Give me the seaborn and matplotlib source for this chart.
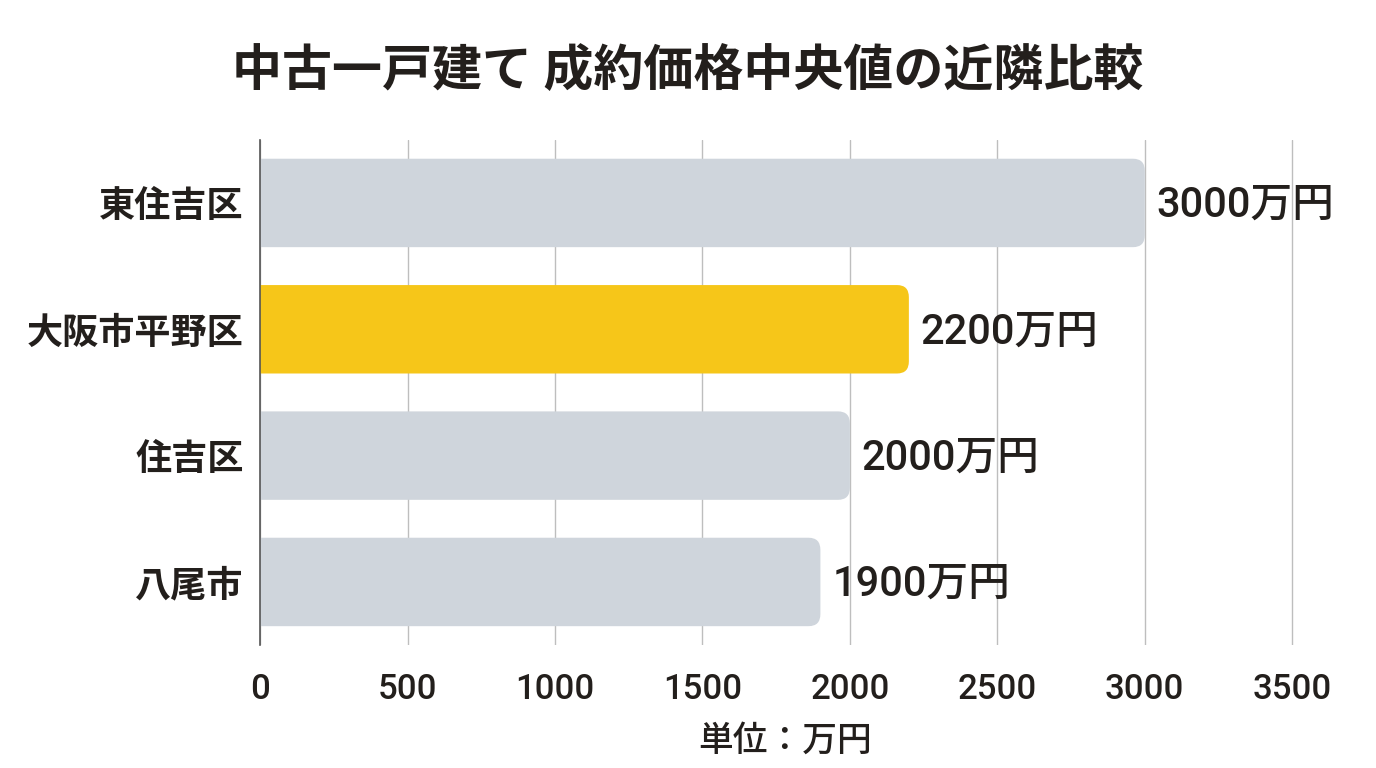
import matplotlib
matplotlib.use('Agg')
import matplotlib.pyplot as plt
from matplotlib.patches import FancyBboxPatch
import seaborn as sns
import pandas as pd

# 中古一戸建て 成約価格中央値
areas = ['東住吉区', '大阪市平野区', '住吉区', '八尾市']
prices = [3000, 2200, 2000, 1900]
highlight = '大阪市平野区'
xticks = [0, 500, 1000, 1500, 2000, 2500, 3000, 3500]

grey = '#CFD5DC'
yellow = '#F6C619'
ink = '#231F1C'
num_font = ['Roboto', 'Noto Sans CJK JP']

sns.set_theme(style='white')
plt.rcParams['font.family'] = ['Noto Sans CJK JP', 'DejaVu Sans']

df = pd.DataFrame({'area': areas, 'price': prices})
palette = {a: (yellow if a == highlight else grey) for a in areas}

fig = plt.figure(figsize=(13.76, 7.68), dpi=100)
ax = fig.add_axes([0.189, 0.160, 0.763, 0.658])

sns.barplot(data=df, y='area', x='price', hue='area', palette=palette,
            order=areas, width=0.7, saturation=1, legend=False, ax=ax, zorder=2)

ax.set_xlim(0, 3560)
ax.set_ylim(3.5, -0.5)

# swap plain bars for rounded ones (left end pushed outside the axes so it stays square)
r = 40
for p in list(ax.patches):
    x0, y0 = p.get_x(), p.get_y()
    w, h = p.get_width(), p.get_height()
    col = p.get_facecolor()
    p.remove()
    box = FancyBboxPatch((x0 - 100, y0), w + 100, h,
                         boxstyle=f'round,pad=0,rounding_size={r}',
                         mutation_aspect=0.0024, facecolor=col,
                         edgecolor='none', zorder=2)
    ax.add_patch(box)
    ax.text(x0 + w + 40, y0 + h / 2 + 0.02, f'{int(w)}万円', va='center', ha='left',
            fontsize=30, family=num_font, fontweight='medium', color=ink, zorder=3)

ax.set_xticks(xticks)
ax.set_xticklabels([str(t) for t in xticks], family=num_font, fontweight='medium')
ax.tick_params(axis='x', length=0, pad=20, labelsize=25, labelcolor=ink)
ax.tick_params(axis='y', length=0, pad=12, labelsize=26, labelcolor=ink)
for lab in ax.get_yticklabels():
    lab.set_fontweight('bold')

ax.grid(axis='x', color='#BEBEBE', linewidth=1, zorder=0)
ax.set_axisbelow(True)
for s in ['top', 'right', 'bottom']:
    ax.spines[s].set_visible(False)
ax.spines['left'].set_color('#555555')
ax.spines['left'].set_linewidth(1.2)
ax.spines['left'].set_zorder(4)

ax.set_ylabel('')
ax.set_xlabel('単位：万円', fontsize=25, fontweight='medium', color=ink, labelpad=12)

fig.suptitle('中古一戸建て 成約価格中央値の近隣比較', x=0.5, y=0.94,
             fontsize=36, fontweight='bold', color=ink)

fig.savefig('out.png', dpi=100, facecolor='white')
